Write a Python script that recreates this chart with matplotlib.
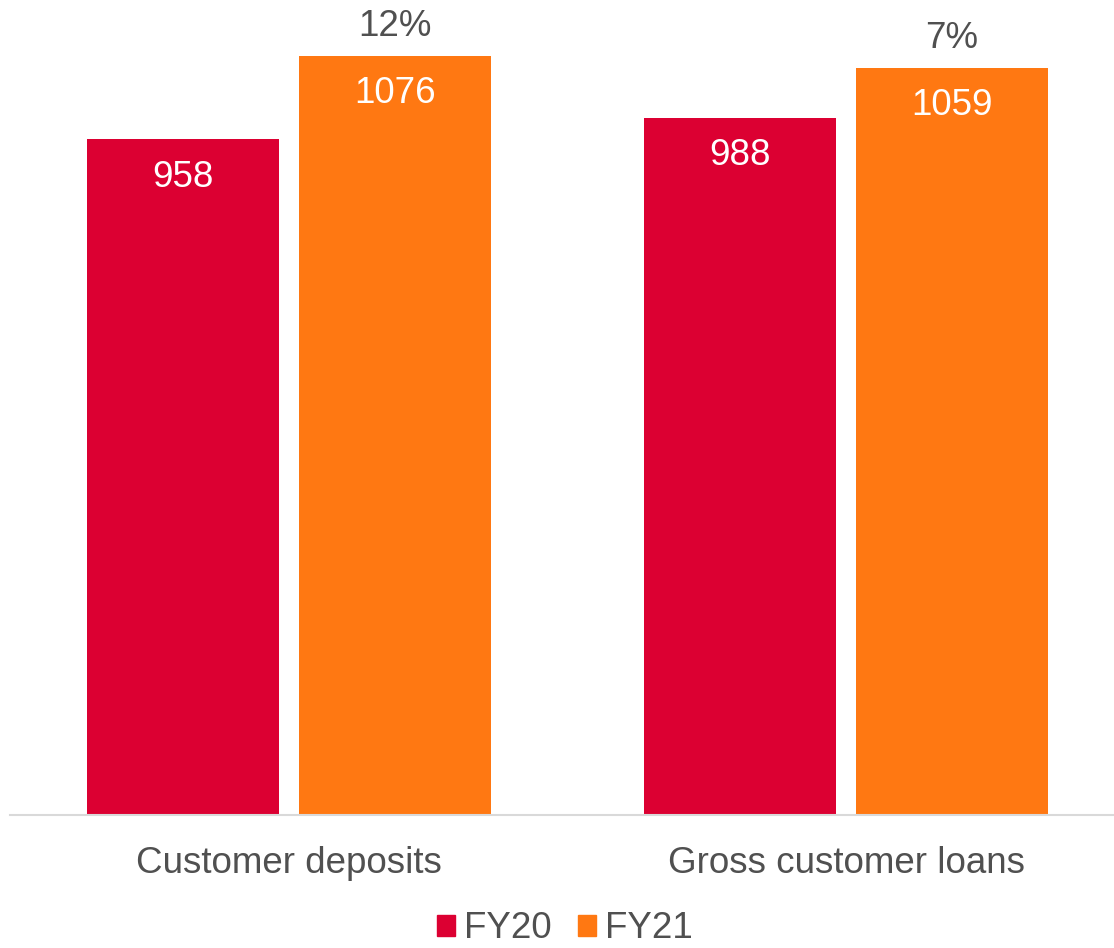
import matplotlib
matplotlib.use('Agg')
import matplotlib.pyplot as plt
from matplotlib.patches import Patch

categories = ['Customer deposits', 'Gross customer loans']
fy20 = [958, 988]
fy21 = [1076, 1059]
growth = ['12%', '7%']
series_names = ['FY20', 'FY21']

RED = '#DC0032'
ORANGE = '#FF7812'
GREY = '#505050'
FS = 26.5

plt.rcParams['font.family'] = ['Liberation Sans', 'DejaVu Sans']

fig = plt.figure(figsize=(11.14, 9.48), dpi=100)
ax = fig.add_axes([10 / 1114, 133 / 948, 1 - 10 / 1114, 815 / 948])

x = list(range(len(categories)))
w = 0.345
off = 0.19
b1 = ax.bar([i - off for i in x], fy20, w, color=RED)
b2 = ax.bar([i + off for i in x], fy21, w, color=ORANGE)

# values inside the bars
for bars, vals in ((b1, fy20), (b2, fy21)):
    for r, v in zip(bars, vals):
        ax.annotate(str(v), (r.get_x() + r.get_width() / 2, v),
                    xytext=(0, -34.2), textcoords='offset points',
                    ha='center', va='baseline', color='white', fontsize=FS)

# growth labels above FY21 bars
for r, v, g in zip(b2, fy21, growth):
    ax.annotate(g, (r.get_x() + r.get_width() / 2, v),
                xytext=(0, 14), textcoords='offset points',
                ha='center', va='baseline', color=GREY, fontsize=FS)

# category labels
for i, c in zip(x, categories):
    ax.text(i, -0.0712, c, transform=ax.get_xaxis_transform(),
            ha='center', va='baseline', color=GREY, fontsize=FS)

ax.set_xlim(-0.501, 1.481)
ax.set_ylim(0, 1155)
ax.set_xticks([])
ax.set_yticks([])
for s in ('top', 'right', 'left'):
    ax.spines[s].set_visible(False)
ax.spines['bottom'].set_color('#D9D9D9')
ax.spines['bottom'].set_linewidth(1.5)

handles = [Patch(color=RED), Patch(color=ORANGE)]
fig.legend(handles, series_names, loc='center',
           bbox_to_anchor=(0.5 + 8 / 1114, 19 / 948),
           ncol=2, frameon=False, fontsize=FS, handlelength=0.5, handleheight=0.5,
           handletextpad=0.25, columnspacing=0.7, borderpad=0, labelcolor=GREY)

fig.savefig('out.png', dpi=100)
plt.close('all')
